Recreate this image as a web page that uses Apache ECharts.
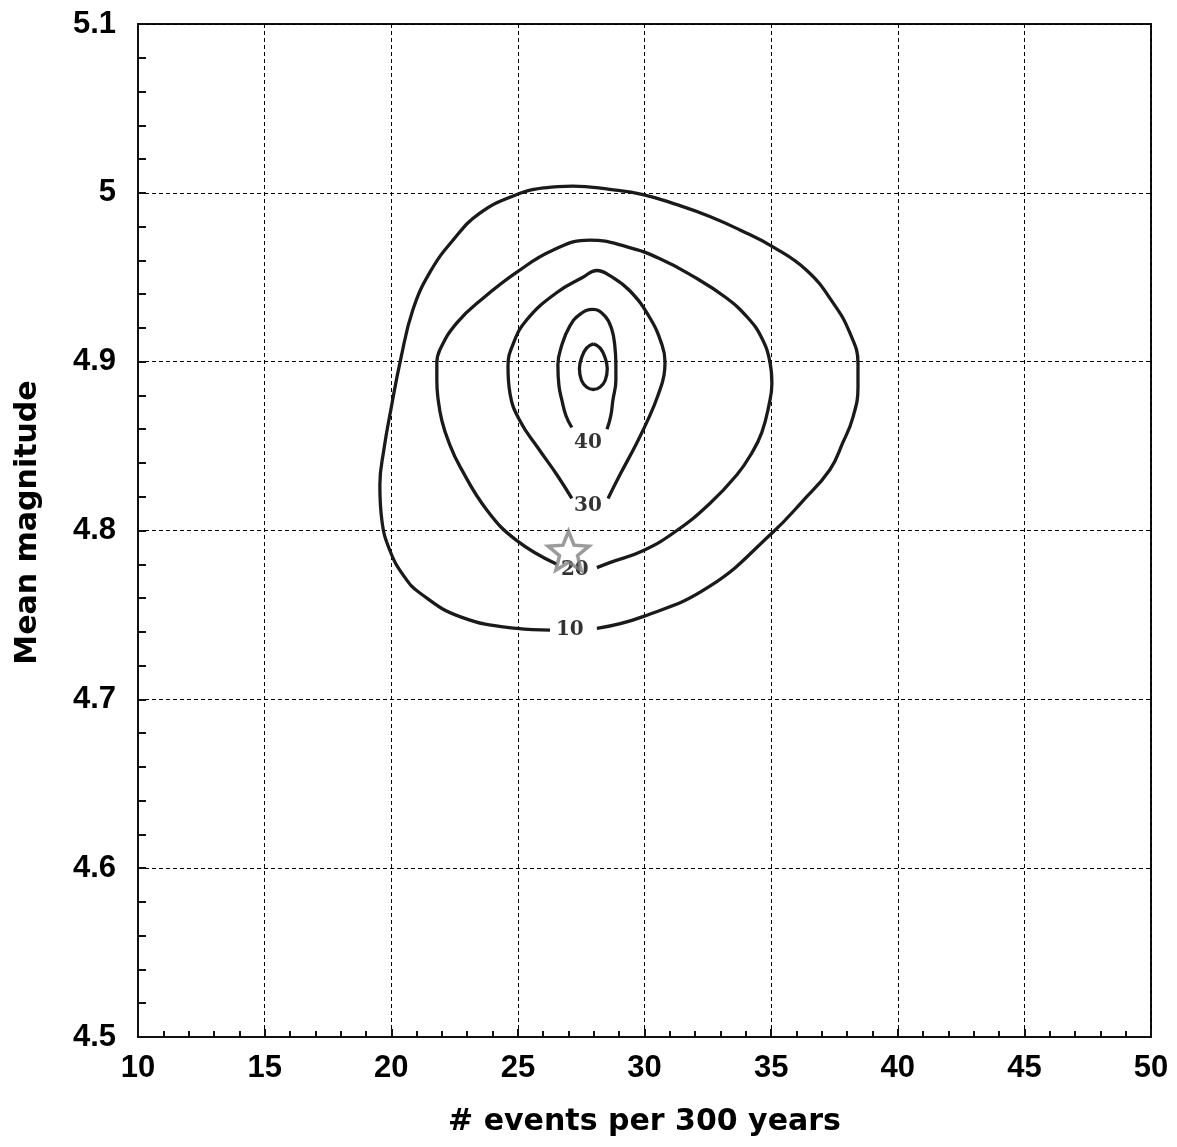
<!DOCTYPE html>
<html>
<head>
<meta charset="utf-8">
<script src="https://cdn.jsdelivr.net/npm/echarts@6/dist/echarts.min.js"></script>
<style>
html,body{margin:0;padding:0;background:#fff;}
#chart{width:1177px;height:1147px;}
</style>
</head>
<body>
<div id="chart"></div>
<script>
// Contour level 10 (outer), open at label gap
const contour10 = [
  [28.12,4.742],[29.94,4.749],[32.58,4.767],[35.07,4.799],[36.22,4.817],[37.32,4.836],
  [37.83,4.852],[38.23,4.867],[38.43,4.885],[38.43,4.899],[38.11,4.917],[37.44,4.935],
  [36.41,4.954],[35.07,4.968],[33.77,4.978],[32.58,4.986],[31.28,4.993],[29.94,4.999],
  [28.63,5.002],[27.17,5.004],[26.07,5.003],[24.96,4.999],[23.50,4.988],[22.44,4.972],
  [21.53,4.953],[20.86,4.931],[20.38,4.902],[19.99,4.872],[19.71,4.848],[19.55,4.827],
  [19.63,4.806],[19.95,4.788],[20.50,4.773],[21.13,4.763],[22.71,4.749],[24.96,4.742],
  [26.27,4.741]
];
// Contour level 20
const contour20 = [
  [28.12,4.778],[28.63,4.781],[29.94,4.788],[31.28,4.800],[32.58,4.816],[33.65,4.833],
  [34.24,4.846],[34.63,4.858],[34.91,4.874],[35.03,4.887],[34.95,4.900],[34.63,4.914],
  [34.08,4.926],[33.21,4.938],[31.87,4.951],[30.61,4.961],[29.31,4.968],[27.84,4.972],
  [26.38,4.966],[24.96,4.953],[23.66,4.938],[22.59,4.923],[21.92,4.907],[21.80,4.899],
  [21.80,4.889],[21.84,4.879],[22.00,4.865],[22.28,4.852],[22.71,4.838],[23.78,4.812],
  [24.96,4.794],[26.54,4.780]
];
// Contour level 30
const contour30 = [
  [28.56,4.819],[29.03,4.833],[29.70,4.852],[30.21,4.868],[30.53,4.880],[30.77,4.892],
  [30.81,4.900],[30.69,4.910],[30.21,4.926],[29.42,4.942],[28.63,4.951],[28.12,4.954],
  [27.57,4.950],[26.54,4.941],[25.36,4.925],[24.80,4.910],[24.61,4.897],[24.69,4.881],
  [25.08,4.865],[25.79,4.849],[26.54,4.833],[27.13,4.819]
];
// Contour level 40
const contour40 = [
  [28.52,4.860],[28.67,4.868],[28.75,4.877],[28.87,4.889],[28.87,4.898],[28.83,4.909],
  [28.71,4.919],[28.44,4.927],[27.96,4.931],[27.45,4.928],[27.05,4.921],[26.74,4.910],
  [26.58,4.898],[26.62,4.886],[26.74,4.877],[26.90,4.868],[27.13,4.861]
];
// Innermost closed contour
const contour50 = [
  [27.98,4.9105],[28.25,4.908],[28.45,4.902],[28.53,4.896],[28.45,4.889],[28.25,4.885],
  [27.98,4.8835],[27.71,4.885],[27.51,4.889],[27.43,4.896],[27.51,4.902],[27.71,4.908],
  [27.98,4.9105]
];
// Contour labels
const labelTexts = ['10','20','30','40'];
const labelX = [27.05, 27.25, 27.77, 27.77];
const labelY = [4.741, 4.777, 4.8145, 4.852];
// Star marker
const starPoint = [27.0, 4.788];

const labelData = labelTexts.map((t,i)=>({value:[labelX[i], labelY[i]], name:t}));

const starPath = 'path://M50,0 L62.9,32.2 L97.6,34.5 L70.9,56.8 L79.4,90.5 L50,72 L20.6,90.5 L29.1,56.8 L2.4,34.5 L37.1,32.2 Z';

const lineStyle = {color:'#1a1a1a', width:3.3};
function contourSeries(data){
  return {type:'line', data:data, showSymbol:false, symbol:'none', smooth:0.45,
          lineStyle:lineStyle, z:3, silent:true, animation:false};
}

const chart = echarts.init(document.getElementById('chart'), null, {renderer:'canvas'});
chart.setOption({
  backgroundColor:'#fff',
  animation:false,
  grid:{left:138, top:24, right:26, bottom:110, show:true, borderColor:'#111', borderWidth:2, backgroundColor:'transparent'},
  xAxis:{
    type:'value', min:10, max:50, interval:5,
    name:'# events per 300 years', nameLocation:'middle', nameGap:70,
    nameTextStyle:{fontFamily:'DejaVu Sans', fontWeight:'bold', fontSize:30, color:'#000'},
    axisLine:{show:true, onZero:false, lineStyle:{color:'#111', width:2}},
    axisTick:{show:true, inside:true, length:8, lineStyle:{color:'#111', width:2}},
    minorTick:{show:true, splitNumber:5, length:6, lineStyle:{color:'#111', width:2}},
    axisLabel:{fontFamily:'Liberation Sans', fontWeight:'bold', fontSize:31, color:'#000', margin:16},
    splitLine:{show:true, lineStyle:{color:'#000', width:1, type:[4,3]}}
  },
  yAxis:{
    type:'value', min:4.5, max:5.1, interval:0.1,
    name:'Mean magnitude', nameLocation:'middle', nameGap:95,
    nameTextStyle:{fontFamily:'DejaVu Sans', fontWeight:'bold', fontSize:30, color:'#000', padding:[0,0,0,16]},
    axisLine:{show:true, onZero:false, lineStyle:{color:'#111', width:2}},
    axisTick:{show:true, inside:true, length:8, lineStyle:{color:'#111', width:2}},
    minorTick:{show:true, splitNumber:5, length:8, lineStyle:{color:'#111', width:2}},
    axisLabel:{fontFamily:'Liberation Sans', fontWeight:'bold', fontSize:31, color:'#000', margin:22},
    splitLine:{show:true, lineStyle:{color:'#000', width:1, type:[4,3]}}
  },
  series:[
    contourSeries(contour10),
    contourSeries(contour20),
    contourSeries(contour30),
    contourSeries(contour40),
    contourSeries(contour50),
    {
      type:'scatter', data:labelData, symbol:'circle', symbolSize:1, z:5, silent:true,
      itemStyle:{color:'rgba(0,0,0,0)'},
      label:{show:true, position:'inside', formatter:'{b}',
             fontFamily:'DejaVu Serif', fontWeight:'bold', fontSize:20, color:'#000',
             textBorderWidth:0}
    },
    {
      type:'scatter', data:[starPoint], symbol:starPath, symbolSize:41, symbolKeepAspect:true, z:6, silent:true,
      itemStyle:{color:'rgba(255,255,255,0)', borderColor:'#828282', borderWidth:3.5}
    }
  ]
});
</script>
</body>
</html>
